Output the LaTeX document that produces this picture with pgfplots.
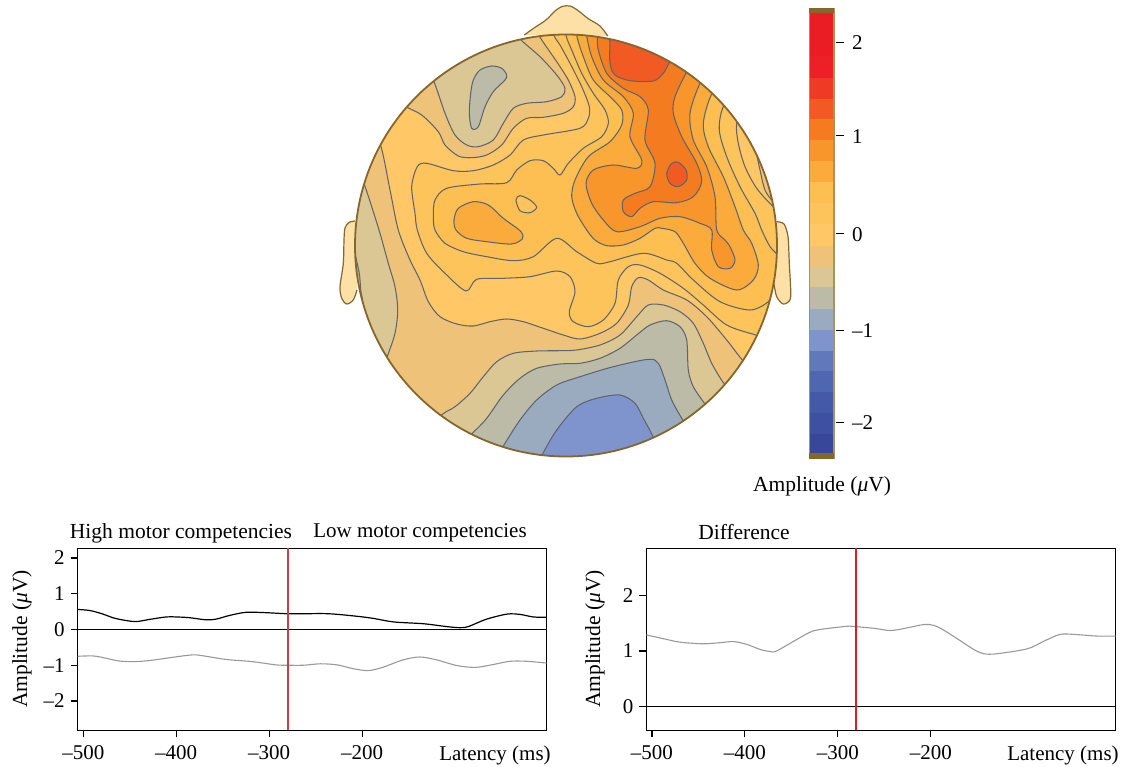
\documentclass[border=0pt]{standalone}
\usepackage{pgfplots}
\pgfplotsset{compat=1.18}
\usepackage{fontspec}
\setmainfont{Liberation Serif}
\definecolor{ctr}{HTML}{5F656F}
\definecolor{hd}{HTML}{87662E}
\definecolor{skin}{HTML}{FDE0A6}
\definecolor{cbside}{HTML}{A9925F}
\definecolor{nK}{HTML}{38479A}
\definecolor{nJ}{HTML}{3E50A2}
\definecolor{nI}{HTML}{4459A8}
\definecolor{nH}{HTML}{4E67B0}
\definecolor{nG}{HTML}{6079BB}
\definecolor{nF}{HTML}{7F94CC}
\definecolor{nE}{HTML}{9BABBF}
\definecolor{nD}{HTML}{BCBBA8}
\definecolor{nC}{HTML}{DBC793}
\definecolor{nB}{HTML}{EEC379}
\definecolor{pA}{HTML}{FFC765}
\definecolor{pB}{HTML}{FEC45C}
\definecolor{pC}{HTML}{FDBE52}
\definecolor{pD}{HTML}{FBAB3B}
\definecolor{pE}{HTML}{F8962B}
\definecolor{pF}{HTML}{F57B20}
\definecolor{pG}{HTML}{F15A22}
\definecolor{pH}{HTML}{EF3B26}
\definecolor{pI}{HTML}{ED2027}
\definecolor{pJ}{HTML}{EC1C24}
\definecolor{vlineA}{HTML}{C8404A}
\definecolor{vlineB}{HTML}{E01B24}
\definecolor{grayc}{HTML}{999999}
\newcommand{\lab}{\fontsize{21}{25}\selectfont}
\newcommand{\txt}{\fontsize{21.5}{25}\selectfont}
\newcommand{\txs}{\fontsize{21}{25}\selectfont}
\pgfplotsset{
  ct/.style={smooth,mark=none,draw=ctr,line width=1.05pt,fill=#1},
  cc/.style={smooth cycle,mark=none,draw=ctr,line width=1.05pt,fill=#1},
  seg/.style={mark=none,draw=none,fill=#1},
  low/.style={
    scale only axis,
    axis line style={line width=1.2pt},
    tick style={line width=1.1pt,black},
    major tick length=7pt,
    tick align=outside,
    xtick pos=bottom, ytick pos=left,
    xtick={-500,-400,-300,-200},
    xticklabels={–500,–400,–300,–200},
    tick label style={font=\lab},
    xticklabel style={yshift=-5pt},
    yticklabel style={xshift=-2.5pt},
    /pgf/number format/assume math mode=true,
  },
}
\begin{document}
\begin{tikzpicture}[x=1pt,y=1pt]
\path[use as bounding box] (0,0) rectangle (1123pt,767pt);
\begin{axis}[at={(0pt,0pt)},anchor=south west,scale only axis,width=1123pt,height=767pt,
  xmin=0,xmax=1123,ymin=0,ymax=767,y dir=reverse,hide axis,clip=false]
% nose and ears
\addplot[smooth,mark=none,draw=hd,line width=1.2pt,fill=skin] coordinates {(524.3,35)(534,28)(546,20)(555,11)(562,6.5)(570,6)(578,10.5)(588,18.5)(600,26)(607.7,36)};
\addplot[smooth,mark=none,draw=hd,line width=1.2pt,fill=skin] coordinates {(355,221)(349,222.5)(345,228)(344,240)(343.3,263.3)(340,286.7)(341.7,298.3)(346.7,304)(353.3,300)(357,290)};
\addplot[smooth,mark=none,draw=hd,line width=1.2pt,fill=skin] coordinates {(776.7,221.7)(784,224)(788,236.7)(789.3,263.3)(790.7,290)(790,300)(783.3,304)(776.7,296.7)(773.3,280)};
\fill[pA] (axis cs:566,245.5) circle[radius=211pt];
\begin{scope}
\clip (axis cs:566,245.5) circle[radius=211pt];
% top-left negative
\addplot[ct=nB] coordinates {(385,90)(405,106)(421.7,115)(438.3,131.7)(445,145)(458.3,156)(471.7,157.7)(486.7,155)(501.7,145)(513.3,128.3)(526.7,118.3)(543.3,117.3)(563.3,113.3)(573.3,106.7)(575,96.7)(568.3,80)(556.7,61.7)(539.3,36)(530,15)(440,25)};
\addplot[ct=nC] coordinates {(420,55)(433.3,80)(445,113.3)(455,135)(466.7,145)(478.3,146.7)(493.3,140)(503.3,123.3)(513.3,108.3)(526.7,103.3)(546.7,101.7)(561.7,96.7)(565,88.3)(556.7,75)(540,56.7)(519.3,38.3)(505,20)(440,30)};
\addplot[cc=nD] coordinates {(473.3,80)(480,70)(491.7,66)(501.7,68.3)(506.7,75)(505,80)(493.3,91.7)(485,106.7)(478.3,126.7)(471.7,128.3)(469.3,113.3)(470.7,93.3)};
% lower-left and bottom negative
\addplot[ct=nB] coordinates {(365,120)(380,143.3)(390,190)(398.3,230)(410,260)(420,280)(428.3,301.7)(440,316.7)(456.7,324)(473.3,326)(490,321.7)(506.7,319)(523.3,321.7)(543.3,328.3)(563.3,335)(580,339)(600,333.3)(616.7,323.3)(628.3,305)(631.7,286.7)(638.3,277.7)(648.3,280)(663.3,290)(686.7,300)(706.7,316.7)(726.7,340)(741.7,359.3)(760,380)(760,480)(340,480)(340,140)};
\addplot[ct=nC] coordinates {(355,165)(363.3,181.7)(371.7,206.7)(380,233.3)(388.3,263.3)(395,286.7)(397.7,310)(395,333.3)(387.3,356.7)(378,385)(330,380)(330,170)};
\addplot[ct=nD] coordinates {(355,245)(355,253.3)(359.3,273.3)(360.7,290)(362,305)(345,300)(345,250)};
\addplot[ct=nC] coordinates {(425,430)(442.7,414)(455,406.7)(470,393.3)(483.3,376.7)(496.7,361.7)(513.3,353.3)(536.7,351)(560,350.7)(576.7,350)(600,345)(620,335)(636.7,316.7)(648.3,305)(663.3,305)(680,311.7)(693.3,323.3)(703.3,343.3)(711.7,363.3)(723.3,382.7)(740,405)(740,480)(420,480)};
\addplot[ct=nD] coordinates {(460,445)(474,431.7)(486.7,418.3)(503.3,395)(520,378.3)(536.7,368.3)(560,364)(580,363.3)(600,358.3)(620,348.3)(636.7,335)(650,325)(666.7,320.7)(680,326.7)(686.7,340)(688.3,370)(693.3,386.7)(704,402.7)(720,425)(720,480)(450,480)};
\addplot[ct=nE] coordinates {(495,460)(505,443.3)(520,420)(536.7,400)(556.7,385)(580,376.7)(613.3,366.7)(648.3,359.3)(658.3,363.3)(665,380)(671.7,400)(681.7,418.3)(695,440)(695,480)(490,480)};
\addplot[ct=nF] coordinates {(535,470)(543.3,452.7)(556.7,430)(576.7,406.7)(596.7,398.3)(620,395)(635,403.3)(643.3,418.3)(651.7,434)(660,455)(660,480)(530,480)};
% positive nested
\addplot[ct=pB] coordinates {(552,15)(554,35)(560,45)(570,63.3)(581.7,86.7)(589.3,106.7)(588.3,118.3)(580,128.3)(543.3,135)(523.3,140)(510,155)(493.3,165)(473.3,170.7)(453.3,170.7)(426.7,163.3)(417.3,166.7)(411.7,186.7)(415,213.3)(417.3,230)(426.7,253.3)(445,273.3)(466,291)(476.7,279.3)(503.3,278.3)(530,276.7)(556.7,271)(570,276.7)(575,291.7)(569.3,311.7)(573.3,321.7)(588.3,326.7)(603.3,320)(615,303.3)(618.3,280)(628.3,266.7)(640,265)(660,273.3)(683.3,288.3)(703.3,305)(726.7,325)(755.7,335)(790,345)(800,200)(700,10)(552,5)};
\addplot[ct=pC] coordinates {(566,15)(566,35)(571.7,50)(581.7,73.3)(593.3,93.3)(605,110)(608.3,123.3)(601.7,136.7)(583.3,148.3)(568.3,163.3)(560,175)(553.3,168.3)(543.3,160.7)(530,160.7)(516.7,170)(506.7,182.7)(480,184)(446.7,188.3)(435,200)(433.3,216.7)(435,230)(445,243.3)(463.3,251.7)(486.7,256.7)(513.3,260.7)(533.3,256.7)(556.7,238.3)(576.7,251.7)(596.7,263.3)(610,261.7)(643.3,253.3)(666.7,260)(676.7,263.3)(693.3,280)(720,301.7)(750,310)(768.3,301.7)(775,288.3)(780,260)(770,246.7)(761.7,230)(755,213.3)(740,186.7)(726.7,156.7)(719.3,130)(723.3,106.7)(740,85)(700,10)(566,5)};
\addplot[cc=pD] coordinates {(454,220)(458.3,208.3)(473.3,201.7)(488.3,205)(503.3,218.3)(520,230.7)(522.7,238.3)(511.7,244)(486.7,241.7)(466.7,238.3)(456,230)};
\addplot[cc=pB] coordinates {(516,200)(520,195.7)(530,200)(536.7,207.3)(530,212.7)(520,210.7)};
\addplot[ct=pD] coordinates {(576.7,15)(576.7,35)(583.3,56.7)(593.3,80)(610,96.7)(621.7,110)(621.7,125)(610,141.7)(588.3,156.7)(575,180)(571.7,196.7)(576.7,213.3)(586.7,230)(595,240)(606.7,245.7)(623.3,245)(640,238.3)(655,228.3)(661.7,228.3)(675,231.7)(683.3,243.3)(695,263.3)(710,278.3)(736.7,290)(753.3,280)(758.3,265)(751.7,243.3)(743.3,230)(735,206.7)(723.3,176.7)(708.3,146.7)(703.3,123.3)(711.7,94)(730,70)(690,10)(576,5)};
\addplot[ct=pE] coordinates {(586.7,15)(586.7,35)(591.7,56.7)(603.3,80)(623.3,96.7)(633.3,113.3)(630,136.7)(641.7,160)(636.7,168.3)(613.3,165)(593.3,170)(586,183.3)(591.7,203.3)(603.3,220)(616.7,231.7)(640,226.7)(660,218.3)(680,216.7)(700,223.3)(711.7,230)(711.7,250)(718.3,266.7)(730,268.3)(735,260)(730,246.7)(725,240)(716.7,230)(715,196.7)(706.7,166.7)(693.3,140)(690,113.3)(700,83.3)(715,60)(680,10)(587,5)};
\addplot[ct=pF] coordinates {(597,15)(597.3,36.7)(598.3,50)(606.7,73.3)(623.3,88.3)(640,96.7)(648.3,110)(645,140)(655,163.3)(650,186.7)(635,193.3)(623.3,200)(623.3,211.7)(631.7,216.7)(640,208.3)(653.3,201.7)(676.7,202.7)(693.3,196.7)(701.7,181.7)(696.7,163.3)(681.7,136.7)(673.3,113.3)(675,96.7)(686,73.3)(700,50)(670,10)(597,5)};
\addplot[ct=pG] coordinates {(610,20)(610,39.3)(610,63.3)(615,75)(630,80.7)(653.3,81)(663.3,73.3)(670,61.7)(682,45)(650,15)};
\addplot[cc=pG] coordinates {(666.7,173.3)(671.7,163.3)(678.3,162.3)(686,170)(686.7,180)(678.3,186.7)(670,183.3)};
\addplot[ct=pA] coordinates {(745,105)(736.7,123.3)(738.3,143.3)(745,166.7)(756.7,188.3)(773.3,206.7)(790,220)(790,120)};
\addplot[ct=nB] coordinates {(757,140)(756.7,153.3)(760,170)(765,190)(773.3,201.7)(785,210)(785,150)};
\end{scope}
\draw[hd,line width=1.8pt] (axis cs:566,245.5) circle[radius=211pt];
% colour bar
\addplot[seg=cbside] coordinates {(808.5,8)(834.5,8)(834.5,458.5)(808.5,458.5)};
\addplot[seg=hd] coordinates {(809,8)(834,8)(834,13.5)(809,13.5)};
\addplot[seg=hd] coordinates {(809,453.3)(834,453.3)(834,458.5)(809,458.5)};
\addplot[seg=pJ] coordinates {(810,13.5)(833,13.5)(833,35.5)(810,35.5)};
\addplot[seg=pJ] coordinates {(810,35)(833,35)(833,57)(810,57)};
\addplot[seg=pI] coordinates {(810,56.5)(833,56.5)(833,78)(810,78)};
\addplot[seg=pH] coordinates {(810,77.7)(833,77.7)(833,99.3)(810,99.3)};
\addplot[seg=pG] coordinates {(810,99)(833,99)(833,119.8)(810,119.8)};
\addplot[seg=pF] coordinates {(810,119.5)(833,119.5)(833,140.3)(810,140.3)};
\addplot[seg=pE] coordinates {(810,140)(833,140)(833,161.3)(810,161.3)};
\addplot[seg=pD] coordinates {(810,161)(833,161)(833,182.8)(810,182.8)};
\addplot[seg=pC] coordinates {(810,182.5)(833,182.5)(833,203.8)(810,203.8)};
\addplot[seg=pB] coordinates {(810,203.5)(833,203.5)(833,224.8)(810,224.8)};
\addplot[seg=pA] coordinates {(810,224.5)(833,224.5)(833,245.8)(810,245.8)};
\addplot[seg=nB] coordinates {(810,245.5)(833,245.5)(833,267)(810,267)};
\addplot[seg=nC] coordinates {(810,266.7)(833,266.7)(833,287.6)(810,287.6)};
\addplot[seg=nD] coordinates {(810,287.3)(833,287.3)(833,309.3)(810,309.3)};
\addplot[seg=nE] coordinates {(810,309)(833,309)(833,329.8)(810,329.8)};
\addplot[seg=nF] coordinates {(810,329.5)(833,329.5)(833,351.3)(810,351.3)};
\addplot[seg=nG] coordinates {(810,351)(833,351)(833,371.3)(810,371.3)};
\addplot[seg=nH] coordinates {(810,371)(833,371)(833,392.6)(810,392.6)};
\addplot[seg=nI] coordinates {(810,392.3)(833,392.3)(833,413.6)(810,413.6)};
\addplot[seg=nJ] coordinates {(810,413.3)(833,413.3)(833,434.6)(810,434.6)};
\addplot[seg=nK] coordinates {(810,434.3)(833,434.3)(833,453.3)(810,453.3)};
% colour bar ticks
\addplot[mark=none,black,line width=1pt] coordinates {(836,42.3)(844,42.3)};
\addplot[mark=none,black,line width=1pt] coordinates {(836,136)(844,136)};
\addplot[mark=none,black,line width=1pt] coordinates {(836,234)(844,234)};
\addplot[mark=none,black,line width=1pt] coordinates {(836,330.7)(844,330.7)};
\addplot[mark=none,black,line width=1pt] coordinates {(836,422.3)(844,422.3)};
\node[anchor=west,font=\lab,inner sep=0pt] at (axis cs:852,43) {2};
\node[anchor=west,font=\lab,inner sep=0pt] at (axis cs:852,136.7) {1};
\node[anchor=west,font=\lab,inner sep=0pt] at (axis cs:852,234.5) {0};
\node[anchor=west,font=\lab,inner sep=0pt] at (axis cs:852,331) {–1};
\node[anchor=west,font=\lab,inner sep=0pt] at (axis cs:852,423) {–2};
\node[font=\txt,inner sep=0pt] at (axis cs:822,486) {Amplitude ({\itshape μ}V)};
% panel texts
\node[font=\txt,inner sep=0pt] at (axis cs:181,533) {High motor competencies};
\node[font=\txs,inner sep=0pt] at (axis cs:420,533) {Low motor competencies};
\node[font=\txt,inner sep=0pt] at (axis cs:744,532) {Difference};
\node[font=\txs,inner sep=0pt] at (axis cs:495,755.5) {Latency (ms)};
\node[font=\txs,inner sep=0pt] at (axis cs:1063,755.5) {Latency (ms)};
\node[font=\txt,inner sep=0pt,rotate=90] at (axis cs:22,639) {Amplitude ({\itshape μ}V)};
\node[font=\txt,inner sep=0pt,rotate=90] at (axis cs:595,639) {Amplitude ({\itshape μ}V)};
\end{axis}
% left panel
\begin{axis}[low,at={(77.7pt,36.7pt)},anchor=south west,width=469pt,height=182pt,
  xmin=-506,xmax=-1.5,ymin=-2.82,ymax=2.27,
  ytick={-2,-1,0,1,2},yticklabels={–2,–1,0,1,2}]
\addplot[smooth,mark=none,black,line width=1.2pt] coordinates {(-506,.56)(-493,.53)(-480,.44)(-467,.32)(-454,.25)(-443,.22)(-429,.28)(-411,.35)(-400,.35)(-386,.33)(-368,.27)(-357,.29)(-343,.39)(-325,.48)(-304,.47)(-281,.44)(-263,.44)(-236,.44)(-206,.37)(-188,.31)(-166,.21)(-134,.16)(-109,.08)(-95,.05)(-86,.08)(-66,.29)(-44,.43)(-30,.42)(-16,.35)(-1.5,.34)};
\addplot[smooth,mark=none,grayc,line width=1.1pt] coordinates {(-506,-.75)(-490,-.74)(-478,-.79)(-462,-.88)(-446,-.9)(-429,-.87)(-407,-.79)(-382,-.71)(-368,-.75)(-346,-.84)(-318,-.9)(-293,-.99)(-281,-1.0)(-263,-1.0)(-245,-.96)(-227,-.99)(-209,-1.1)(-193,-1.15)(-177,-1.05)(-156,-.85)(-138,-.77)(-120,-.85)(-98,-1.01)(-78,-1.06)(-59,-.98)(-41,-.89)(-23,-.89)(-1.5,-.94)};
\addplot[mark=none,black,line width=1.1pt] coordinates {(-506,0)(-1.5,0)};
\addplot[mark=none,color=vlineA,line width=1.7pt] coordinates {(-280,-2.82)(-280,2.27)};
\end{axis}
% right panel
\begin{axis}[low,at={(646.4pt,36.7pt)},anchor=south west,width=469.3pt,height=182pt,
  xmin=-506,xmax=-1,ymin=-0.434,ymax=2.857,
  ytick={0,1,2},yticklabels={0,1,2}]
\addplot[smooth,mark=none,grayc,line width=1.1pt] coordinates {(-506,1.29)(-487,1.22)(-470,1.16)(-445,1.13)(-427,1.15)(-412,1.17)(-398,1.12)(-384,1.03)(-373,.99)(-366,1.0)(-345,1.2)(-327,1.36)(-305,1.42)(-287,1.45)(-280,1.44)(-261,1.41)(-243,1.37)(-225,1.42)(-206,1.48)(-193,1.44)(-175,1.26)(-154,1.03)(-143,.95)(-129,.95)(-96,1.04)(-78,1.18)(-61,1.3)(-46,1.3)(-21,1.27)(-1,1.27)};
\addplot[mark=none,black,line width=1.1pt] coordinates {(-506,0)(-1,0)};
\addplot[mark=none,color=vlineB,line width=1.4pt] coordinates {(-280.6,-0.434)(-280.6,2.857)};
\end{axis}
\end{tikzpicture}
\end{document}
